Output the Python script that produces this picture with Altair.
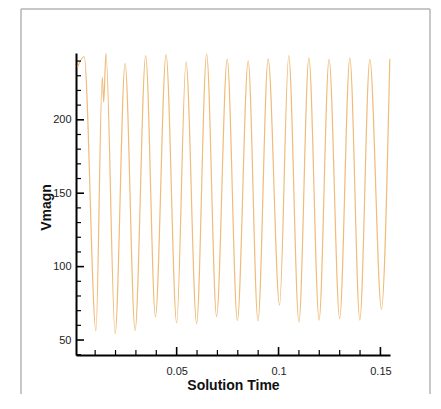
import altair as alt
import pandas as pd

# Solution time (x) and Vmagn (y): extremes of the oscillation
t_vals = [0.0014, 0.0046, 0.0104, 0.0135, 0.0142, 0.0153, 0.0198, 0.0247, 0.0296, 0.0348,
          0.0396, 0.0448, 0.0500, 0.0546, 0.0598, 0.0647, 0.0696, 0.0748, 0.0798, 0.0851,
          0.0899, 0.0949, 0.1005, 0.1050, 0.1100, 0.1149, 0.1199, 0.1248, 0.1300, 0.1350,
          0.1399, 0.1448, 0.1505, 0.1546]
v_vals = [236.0, 243.1, 56.2, 229.0, 212.0, 245.3, 54.3, 238.5, 56.5, 243.7,
          65.8, 244.4, 61.6, 239.4, 61.2, 245.0, 66.0, 241.3, 63.3, 240.1,
          63.0, 241.5, 73.8, 243.7, 62.1, 242.2, 63.6, 241.4, 64.7, 242.2,
          63.6, 241.2, 71.0, 241.5]

x_major = [0.05, 0.1, 0.15]
x_minor = [0.01, 0.02, 0.03, 0.04, 0.06, 0.07, 0.08, 0.09, 0.11, 0.12, 0.13, 0.14]
y_major = [50, 100, 150, 200]
y_minor = [40, 60, 70, 80, 90, 110, 120, 130, 140, 160, 170, 180, 190, 210, 220, 230, 240]

W, H = 314, 302
PL, PT, PR, PB = 68, 45, 42, 39
FONT = "Liberation Sans"

xscale = alt.Scale(domain=[0.0006, 0.1547], nice=False, zero=False)
yscale = alt.Scale(domain=[39.8, 245.5], nice=False, zero=False)

xaxis = alt.Axis(values=x_major, format=".2~f", ticks=False, grid=False,
                 domainColor="black", domainWidth=2, labelPadding=10,
                 labelFontSize=11, labelFont=FONT, labelColor="#222",
                 title="Solution Time", titleFont=FONT, titleFontSize=14,
                 titleFontWeight="bold", titleColor="#111",
                 titleX=W / 2, titleY=34.5, titleBaseline="alphabetic")
yaxis = alt.Axis(values=y_major, format="d", ticks=False, grid=False,
                 domainColor="black", domainWidth=2, labelPadding=5,
                 labelFontSize=11, labelFont=FONT, labelColor="#222",
                 title="Vmagn", titleFont=FONT, titleFontSize=14,
                 titleFontWeight="bold", titleColor="#111",
                 titleX=-30, titleY=H / 2 + 3, titleAlign="center",
                 titleBaseline="middle", titleAngle=270)

X = alt.X("x:Q", scale=xscale, axis=xaxis)
Y = alt.Y("y:Q", scale=yscale, axis=yaxis)

line_df = pd.DataFrame({"x": t_vals, "y": v_vals})
line = alt.Chart(line_df).mark_line(
    interpolate="monotone", color="#EFBC7A", strokeWidth=1.2
).encode(x=X, y=Y)

xmaj = alt.Chart(pd.DataFrame({"x": x_major})).mark_rule(
    color="black", strokeWidth=1.6
).encode(x=X, y=alt.value(H), y2=alt.value(H - 8))
xmin = alt.Chart(pd.DataFrame({"x": x_minor})).mark_rule(
    color="black", strokeWidth=1.2
).encode(x=X, y=alt.value(H), y2=alt.value(H - 5))
ymaj = alt.Chart(pd.DataFrame({"y": y_major})).mark_rule(
    color="black", strokeWidth=1.6
).encode(y=Y, x=alt.value(0), x2=alt.value(8))
ymin = alt.Chart(pd.DataFrame({"y": y_minor})).mark_rule(
    color="black", strokeWidth=1.2
).encode(y=Y, x=alt.value(0), x2=alt.value(5))

one = pd.DataFrame({"a": [0]})
frame_col = "#b4b4b4"
fl, ft = -55, -44
fr = W + PR - 2
fb = H + PB
f_left = alt.Chart(one).mark_rule(color=frame_col, strokeWidth=1.5).encode(
    x=alt.value(fl), x2=alt.value(fl), y=alt.value(ft), y2=alt.value(fb))
f_top = alt.Chart(one).mark_rule(color=frame_col, strokeWidth=1.5).encode(
    x=alt.value(fl), x2=alt.value(fr), y=alt.value(ft), y2=alt.value(ft))
f_right = alt.Chart(one).mark_rule(color=frame_col, strokeWidth=1.5).encode(
    x=alt.value(fr), x2=alt.value(fr), y=alt.value(ft), y2=alt.value(fb))

chart = alt.layer(line, xmin, xmaj, ymin, ymaj, f_left, f_top, f_right).properties(
    width=W, height=H,
    autosize=alt.AutoSizeParams(type="none"),
    padding={"left": PL, "top": PT, "right": PR, "bottom": PB},
    background="white",
).configure_view(stroke=None)

chart.save("out.html", embed_options={"renderer": "svg", "actions": False})
